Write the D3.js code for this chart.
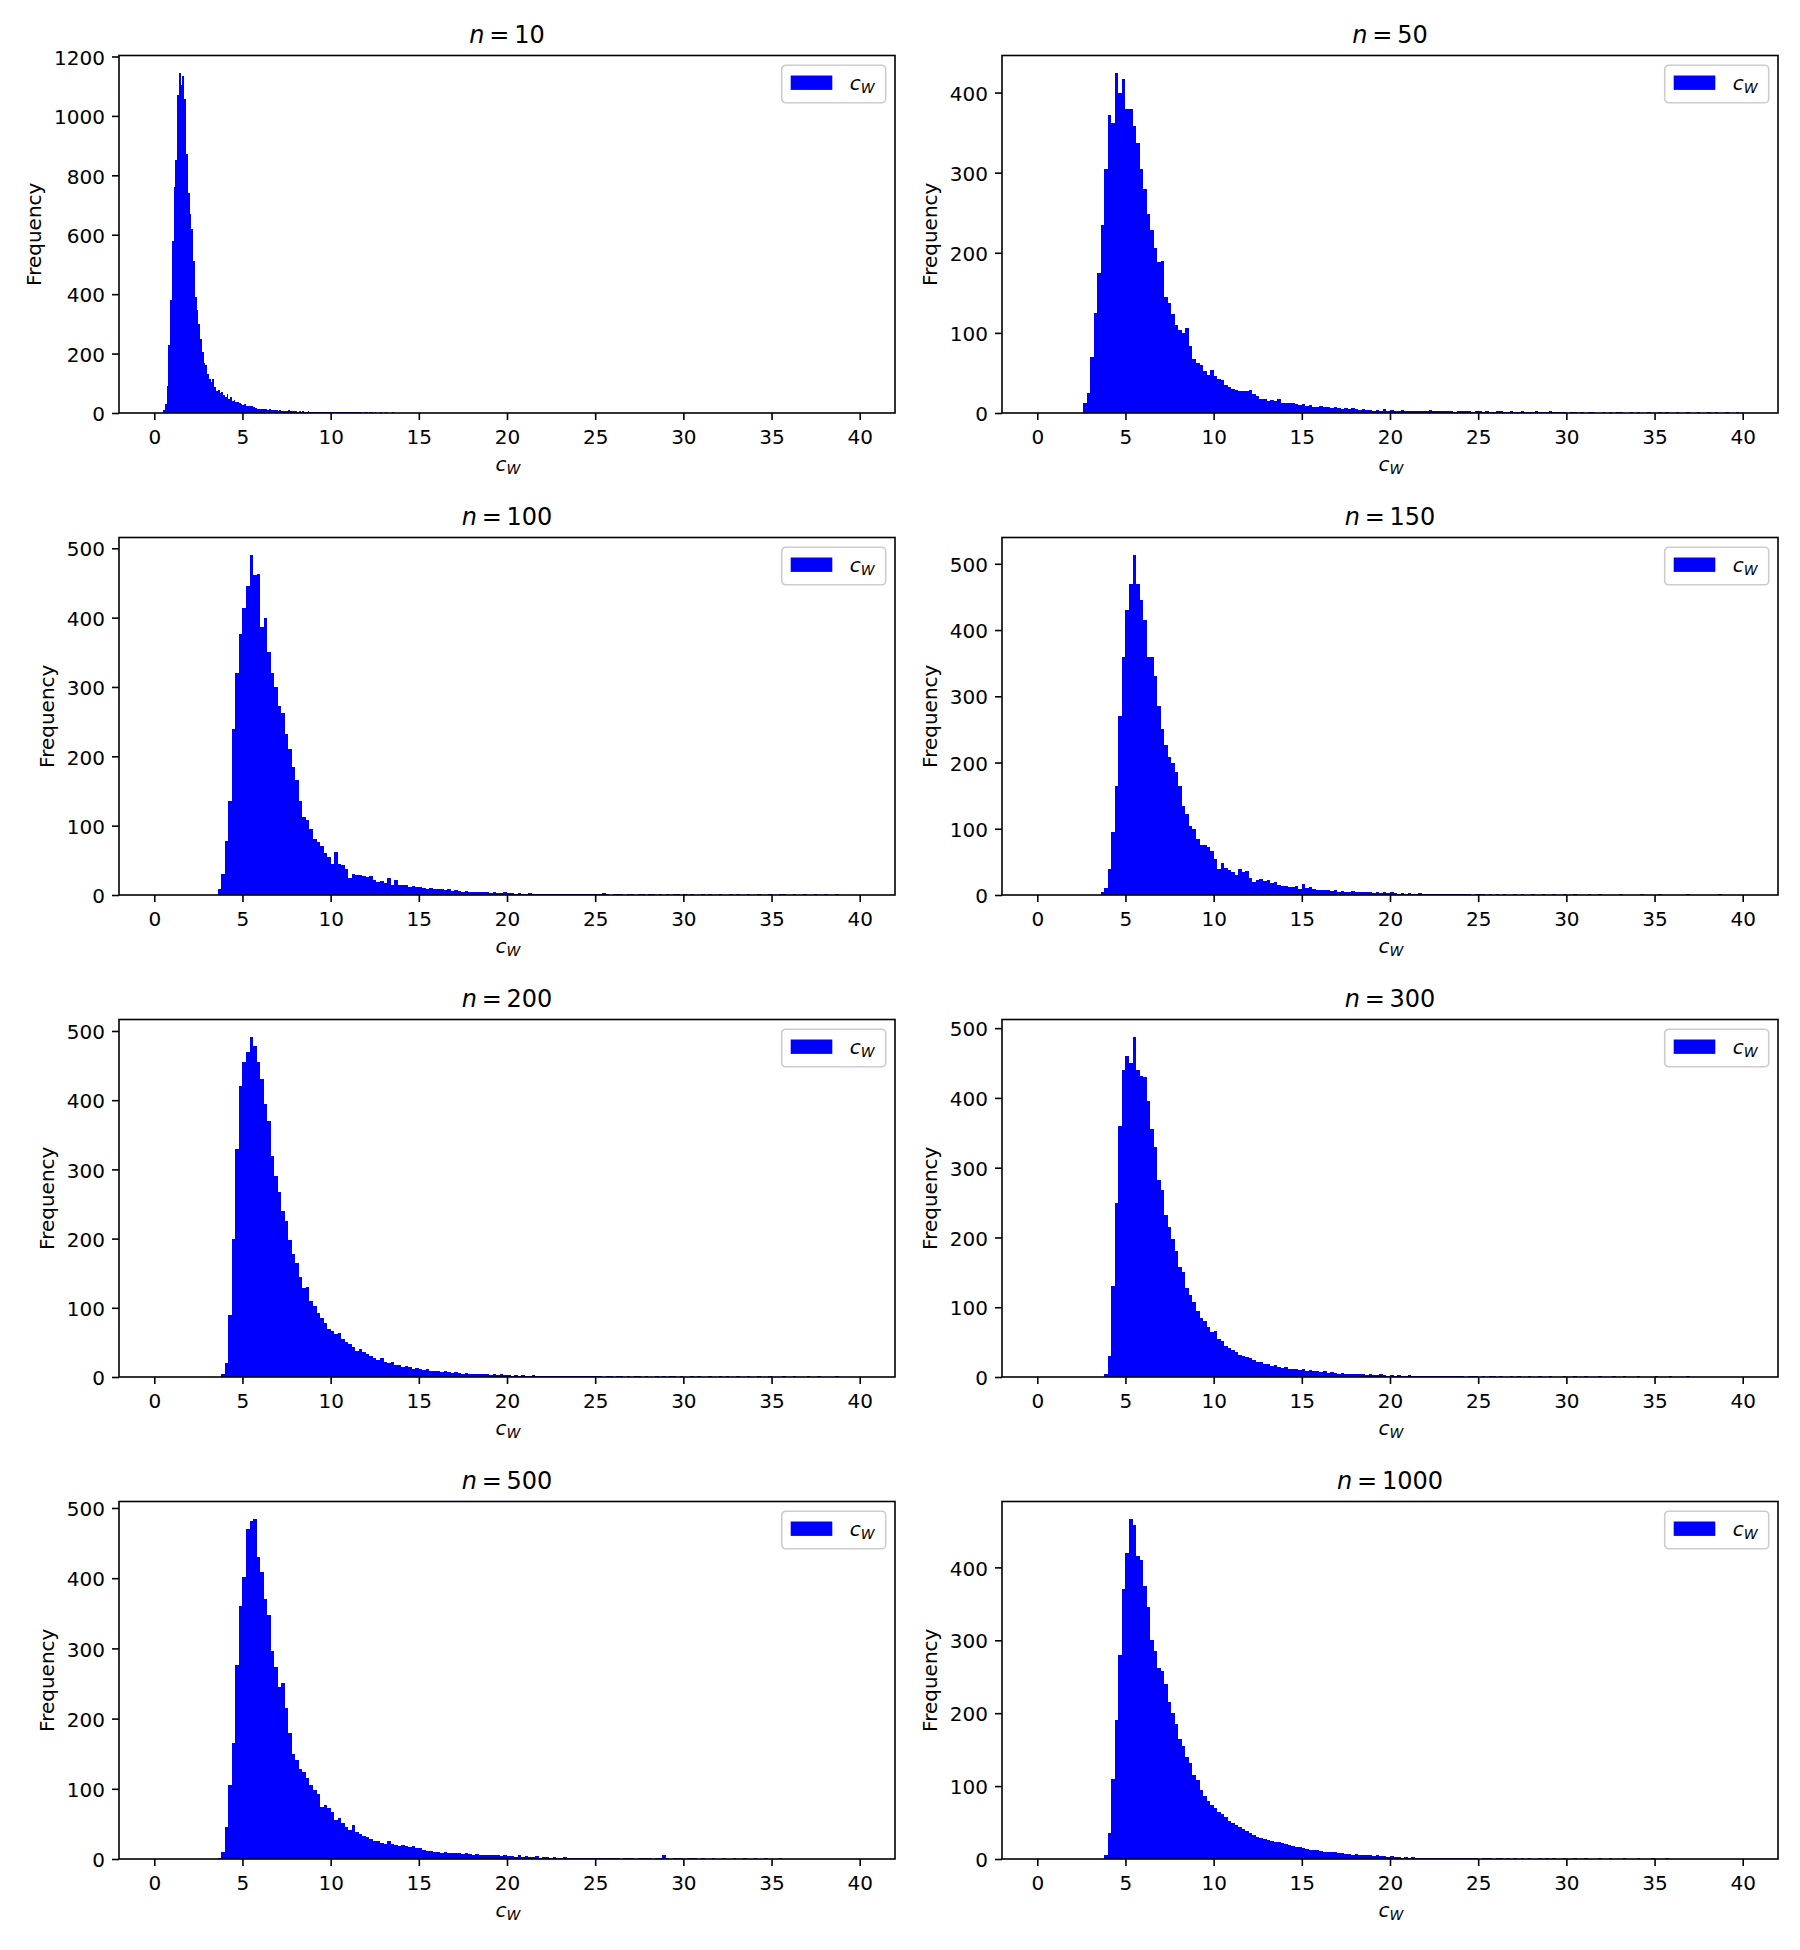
<!DOCTYPE html>
<html>
<head>
<meta charset="utf-8">
<title>c_W histograms</title>
<script src="https://d3js.org/d3.v7.min.js"></script>
<style>
  body { margin: 0; background: white; }
  svg text { font-family: "DejaVu Sans", sans-serif; fill: black; }
</style>
</head>
<body>
<div id="chart"></div>
<script>
// panel titles (n) and histogram bins
var nValues = [10, 50, 100, 150, 200, 300, 500, 1000];
var histRange = [0, 40];
var binStart = [0.5, 2.6, 3.6, 3.6, 3.8, 3.8, 3.6, 3.8];
var binWidth = [0.1, 0.2, 0.2, 0.2, 0.2, 0.2, 0.2, 0.2];

var counts10 = [
  10, 30, 90, 230, 380, 580, 760, 850, 1070, 1146,
  1105, 1133, 1058, 871, 739, 670, 620, 510, 390, 348,
  300, 250, 205, 169, 160, 130, 115, 104, 116, 88,
  75, 76, 66, 70, 60, 55, 65, 48, 54, 40,
  43, 36, 38, 33, 30, 28, 30, 25, 24, 22,
  23, 19, 17, 15, 14, 13, 14, 12, 13, 11,
  12, 10, 11, 9, 10, 8, 9, 8, 7, 8,
  6, 9, 7, 6, 7, 6, 5, 7, 5, 6,
  5, 4, 6, 5, 4, 5, 4, 4, 5, 3,
  4, 4, 3, 4, 3, 3, 3, 4, 2, 3,
  3, 2, 3, 2, 3, 2, 2, 3, 2, 2,
  3, 2, 2, 1, 2, 2, 1, 2, 2, 1,
  2, 1, 1, 2, 1, 1, 2, 1, 1, 1,
  2, 1, 1, 0, 1, 1, 0, 1, 1, 0,
  1, 1, 0, 1, 0, 1, 0, 0, 1, 0,
  1, 0, 0, 1, 0, 0, 1, 0, 0, 1,
  0, 0, 0, 1, 0, 0, 0, 1, 0, 0,
  0, 1, 0, 0, 0, 1, 0, 0, 0, 0,
  0, 1, 0, 0, 0, 0, 1, 0, 0, 0,
  0, 0, 0, 0, 0, 0, 0, 0, 1, 0
];

var counts50 = [
  12, 25, 70, 125, 175, 235, 305, 372, 362, 425,
  400, 417, 380, 379, 358, 337, 305, 280, 248, 229,
  206, 188, 190, 145, 137, 124, 110, 103, 100, 106,
  84, 68, 62, 60, 52, 48, 54, 46, 42, 41,
  35, 33, 30, 29, 28, 27, 28, 29, 24, 21,
  18, 17, 15, 16, 15, 17, 13, 12, 13, 12,
  11, 10, 11, 9, 10, 8, 8, 9, 7, 7,
  6, 8, 6, 5, 6, 5, 6, 5, 4, 5,
  4, 4, 3, 4, 3, 5, 3, 4, 3, 2,
  4, 3, 2, 3, 2, 3, 2, 2, 4, 2,
  3, 2, 2, 3, 2, 1, 2, 3, 2, 2,
  1, 2, 2, 1, 2, 1, 1, 2, 3, 1,
  1, 2, 1, 1, 2, 1, 1, 1, 2, 1,
  1, 1, 2, 1, 1, 1, 1, 0, 1, 1,
  0, 1, 0, 1, 1, 0, 0, 1, 0, 1,
  0, 1, 1, 0, 0, 1, 0, 1, 0, 0,
  1, 0, 0, 1, 0, 1, 0, 0, 1, 0,
  0, 1, 0, 0, 1, 0, 0, 1, 0, 1,
  0, 0, 1, 0, 0, 1, 0
];

var counts100 = [
  8, 30, 78, 135, 240, 320, 377, 414, 445, 491,
  461, 463, 386, 400, 350, 320, 300, 272, 262, 232,
  210, 185, 166, 136, 113, 108, 95, 81, 76, 70,
  60, 55, 45, 62, 45, 43, 38, 24, 31, 29,
  29, 27, 26, 27, 22, 19, 20, 17, 24, 15,
  22, 15, 15, 14, 12, 13, 11, 12, 10, 9,
  10, 8, 9, 8, 7, 8, 6, 7, 6, 5,
  6, 5, 5, 4, 5, 4, 4, 3, 4, 3,
  3, 4, 3, 3, 2, 3, 2, 2, 3, 2,
  2, 1, 2, 2, 1, 2, 2, 1, 2, 1,
  1, 2, 1, 1, 1, 2, 1, 1, 1, 3,
  1, 0, 1, 1, 1, 0, 1, 1, 0, 1,
  2, 0, 1, 1, 0, 1, 0, 1, 0, 1,
  1, 0, 1, 0, 1, 0, 0, 1, 0, 1,
  0, 0, 1, 0, 0, 1, 0, 1, 0, 0,
  1, 0, 0, 1, 0, 0, 1, 0, 0, 1,
  1, 0, 0, 1, 0, 0, 1, 0, 0, 1,
  0, 0, 1, 0, 0, 1, 0
];

var counts150 = [
  4, 10, 40, 95, 165, 270, 360, 430, 470, 514,
  470, 446, 415, 360, 360, 330, 285, 250, 226, 209,
  199, 185, 165, 135, 123, 104, 100, 85, 76, 76,
  72, 66, 54, 40, 48, 41, 37, 34, 30, 40,
  34, 36, 25, 20, 23, 24, 21, 23, 18, 19,
  15, 13, 14, 12, 12, 14, 9, 16, 10, 12,
  9, 7, 8, 7, 8, 6, 7, 5, 6, 5,
  5, 6, 4, 5, 4, 5, 4, 3, 4, 3,
  4, 3, 4, 3, 2, 3, 2, 3, 2, 2,
  3, 2, 1, 2, 2, 1, 2, 1, 1, 2,
  1, 1, 2, 1, 1, 0, 1, 1, 1, 0,
  1, 0, 1, 0, 1, 0, 0, 1, 0, 1,
  0, 0, 1, 0, 0, 1, 0, 0, 1, 0,
  0, 1, 0, 0, 1, 0, 0, 0, 1, 0,
  0, 1, 0, 0, 0, 0, 0, 1, 0, 0,
  0, 0, 0, 1, 0, 0, 0, 0, 1, 0,
  0, 0, 0, 0, 0, 0, 1, 0, 0, 0,
  0, 0, 0, 0, 0, 1, 0
];

var counts200 = [
  5, 20, 90, 200, 330, 420, 455, 470, 492, 478,
  455, 430, 395, 370, 320, 290, 268, 240, 225, 198,
  178, 165, 145, 128, 130, 110, 102, 92, 85, 78,
  70, 66, 62, 64, 55, 50, 47, 44, 38, 40,
  36, 33, 30, 28, 25, 27, 22, 20, 21, 18,
  17, 15, 16, 14, 12, 13, 11, 10, 11, 9,
  8, 9, 7, 8, 7, 6, 7, 6, 5, 6,
  5, 5, 4, 5, 4, 4, 3, 4, 3, 4,
  3, 3, 2, 3, 2, 3, 2, 2, 3, 2,
  2, 1, 2, 2, 1, 2, 1, 2, 1, 1,
  2, 1, 1, 2, 1, 1, 1, 1, 0, 1,
  1, 0, 1, 1, 0, 1, 0, 1, 1, 0,
  1, 0, 0, 1, 0, 1, 0, 1, 2, 0,
  1, 0, 0, 1, 0, 1, 0, 0, 1, 0,
  0, 1, 0, 1, 0, 0, 1, 0, 0, 1,
  0, 0, 1, 0, 0, 1, 0, 0, 0, 1,
  0, 0, 1, 0, 0, 0, 1, 0, 0, 1,
  0, 0, 0, 0, 1, 0
];

var counts300 = [
  4, 30, 130, 250, 360, 440, 460, 450, 488, 440,
  432, 430, 395, 355, 330, 282, 268, 232, 215, 198,
  180, 158, 150, 128, 118, 108, 95, 84, 80, 72,
  64, 66, 55, 52, 45, 42, 39, 36, 32, 30,
  28, 27, 24, 22, 21, 19, 18, 16, 17, 14,
  13, 14, 12, 11, 12, 10, 11, 9, 10, 8,
  9, 7, 8, 6, 7, 6, 5, 6, 5, 5,
  4, 5, 4, 4, 3, 4, 3, 3, 4, 3,
  2, 3, 2, 3, 2, 2, 3, 2, 2, 1,
  2, 2, 1, 2, 1, 1, 2, 1, 1, 1,
  2, 1, 0, 1, 1, 1, 0, 1, 0, 1,
  1, 0, 1, 0, 0, 1, 0, 1, 0, 0,
  1, 0, 0, 1, 0, 0, 1, 0, 0, 0,
  1, 0, 0, 1, 0, 0, 1, 0, 0, 0,
  1, 0, 0, 0, 1, 0, 0, 1, 0, 0,
  0, 1, 0, 0, 0, 0, 1, 0, 0, 0,
  1, 0, 0, 0, 0, 1
];

var counts500 = [
  1, 10, 45, 105, 165, 276, 361, 402, 470, 482,
  485, 430, 409, 370, 347, 297, 274, 245, 250, 215,
  179, 150, 141, 128, 124, 115, 106, 99, 93, 74,
  77, 72, 67, 56, 58, 51, 46, 42, 48, 39,
  35, 33, 31, 28, 26, 25, 23, 22, 25, 21,
  20, 19, 20, 18, 17, 18, 16, 15, 13, 12,
  11, 10, 10, 9, 10, 9, 8, 9, 8, 7,
  8, 7, 6, 7, 6, 5, 6, 5, 6, 5,
  4, 5, 4, 4, 3, 5, 3, 4, 3, 3,
  4, 2, 3, 3, 2, 3, 2, 2, 3, 2,
  2, 1, 2, 2, 1, 2, 1, 1, 2, 1,
  1, 1, 2, 1, 0, 1, 1, 1, 0, 1,
  1, 1, 1, 0, 1, 2, 6, 1, 0, 1,
  1, 1, 0, 1, 2, 1, 0, 1, 0, 0,
  1, 0, 0, 1, 0, 0, 1, 0, 0, 1,
  0, 0, 1, 0, 0, 1, 0, 0, 0, 1
];

var counts1000 = [
  5, 35, 110, 190, 280, 370, 420, 467, 458, 415,
  410, 375, 345, 300, 285, 262, 258, 240, 215, 200,
  185, 165, 155, 140, 132, 115, 108, 95, 86, 80,
  74, 70, 64, 62, 57, 52, 50, 47, 44, 41,
  38, 36, 33, 30, 29, 27, 26, 25, 23, 24,
  22, 21, 19, 18, 17, 16, 15, 14, 13, 12,
  12, 11, 10, 10, 9, 10, 8, 8, 7, 7,
  6, 7, 6, 5, 5, 6, 4, 5, 4, 4,
  3, 4, 3, 3, 2, 3, 2, 3, 2, 2,
  2, 1, 2, 2, 1, 2, 1, 1, 2, 1,
  1, 1, 2, 1, 1, 1, 0, 1, 1, 1,
  0, 1, 1, 0, 1, 0, 1, 0, 1, 0,
  1, 0, 0, 1, 0, 1, 0, 1, 0, 0,
  1, 0, 0, 1, 0, 0, 1, 0, 0, 0,
  1, 0, 0, 1, 0, 0, 0, 1, 0, 0,
  0, 1, 0, 0, 0, 1, 0, 0, 0, 1
];

var xTicks = [0, 5, 10, 15, 20, 25, 30, 35, 40];
var yTicks10 = [0, 200, 400, 600, 800, 1000, 1200];
var yTicks50 = [0, 100, 200, 300, 400];
var yTicks500 = [0, 100, 200, 300, 400, 500];

var countsList = [counts10, counts50, counts100, counts150, counts200, counts300, counts500, counts1000];
var yTicksList = [yTicks10, yTicks50, yTicks500, yTicks500, yTicks500, yTicks500, yTicks500, yTicks50];

var width = 1800, height = 1950;
var colLeft = [119, 1002];
var rowTop = [55.5, 537.5, 1019.5, 1501.5];
var axW = 776, axH = 357.5;
var fs = 20;

var svg = d3.select("#chart").append("svg")
  .attr("width", width)
  .attr("height", height);
svg.append("rect").attr("width", width).attr("height", height).attr("fill", "white");

var span = histRange[1] - histRange[0];
var x = d3.scaleLinear()
  .domain([histRange[0] - 0.05 * span, histRange[1] + 0.05 * span])
  .range([0, axW]);

function cw(sel, size) {
  // math text c_W
  sel.append("tspan").style("font-style", "italic").text("c");
  sel.append("tspan").style("font-style", "italic")
    .attr("font-size", size * 0.7).attr("dy", 3).text("W");
}

nValues.forEach(function (n, i) {
  var counts = countsList[i];
  var w = binWidth[i];
  var bins = counts.map(function (c, k) {
    return { x0: binStart[i] + k * w, x1: binStart[i] + (k + 1) * w, c: c };
  });
  var y = d3.scaleLinear()
    .domain([0, d3.max(counts) * 1.05])
    .range([axH, 0]);

  var left = colLeft[i % 2], top = rowTop[Math.floor(i / 2)];
  var g = svg.append("g").attr("transform", "translate(" + left + "," + top + ")");

  g.append("g").attr("shape-rendering", "crispEdges")
    .selectAll("rect.bar")
    .data(bins.filter(function (d) { return d.c > 0; }))
    .join("rect")
    .attr("class", "bar")
    .attr("x", function (d) { return x(d.x0); })
    .attr("width", function (d) { return x(d.x1) - x(d.x0); })
    .attr("y", function (d) { return y(d.c); })
    .attr("height", function (d) { return axH - y(d.c); })
    .attr("fill", "#0000ff");

  var xa = g.append("g")
    .attr("transform", "translate(0," + axH + ")")
    .call(d3.axisBottom(x).tickValues(xTicks).tickFormat(d3.format("d")).tickSize(7).tickPadding(9.3));
  var ya = g.append("g")
    .call(d3.axisLeft(y).tickValues(yTicksList[i]).tickFormat(d3.format("d")).tickSize(7).tickPadding(7));
  [xa, ya].forEach(function (a) {
    a.select(".domain").remove();
    a.selectAll(".tick line").attr("stroke", "black").attr("stroke-width", 1.6);
    a.selectAll(".tick text").attr("font-size", fs).attr("font-family", "DejaVu Sans").attr("fill", "black");
  });
  ya.selectAll(".tick text").attr("dy", "0.385em");

  g.append("rect")
    .attr("width", axW).attr("height", axH)
    .attr("fill", "none").attr("stroke", "black").attr("stroke-width", 1.6);

  // title
  var t = g.append("text")
    .attr("x", axW / 2).attr("y", -12.5)
    .attr("text-anchor", "middle").attr("font-size", 24);
  t.append("tspan").style("font-style", "italic").text("n");
  t.append("tspan").text("\u2009=\u2009" + n);

  // x label
  var xl = g.append("text")
    .attr("x", axW / 2 + 1).attr("y", axH + 57.5)
    .attr("text-anchor", "middle").attr("font-size", fs);
  cw(xl, fs);

  // y label
  var maxW = d3.max(ya.selectAll(".tick text").nodes(), function (nd) { return nd.getBBox().width; });
  var lx = -7 - 7 - maxW - 8 - 4.7;
  g.append("text")
    .attr("transform", "translate(" + lx + "," + (axH / 2) + ") rotate(-90)")
    .attr("text-anchor", "middle").attr("font-size", fs)
    .text("Frequency");

  // legend
  var lw = 104, lh = 37.6;
  var lg = g.append("g").attr("transform", "translate(" + (axW - 9.3 - lw) + ",9.7)");
  lg.append("rect")
    .attr("width", lw).attr("height", lh).attr("rx", 4)
    .attr("fill", "white").attr("fill-opacity", 0.8)
    .attr("stroke", "#cccccc").attr("stroke-width", 1.6);
  lg.append("rect")
    .attr("x", 9).attr("y", 10.3).attr("width", 41.6).attr("height", 14.4)
    .attr("fill", "#0000ff");
  var lt = lg.append("text").attr("x", 68).attr("y", 25.3).attr("font-size", fs);
  cw(lt, fs);
});
</script>
</body>
</html>
